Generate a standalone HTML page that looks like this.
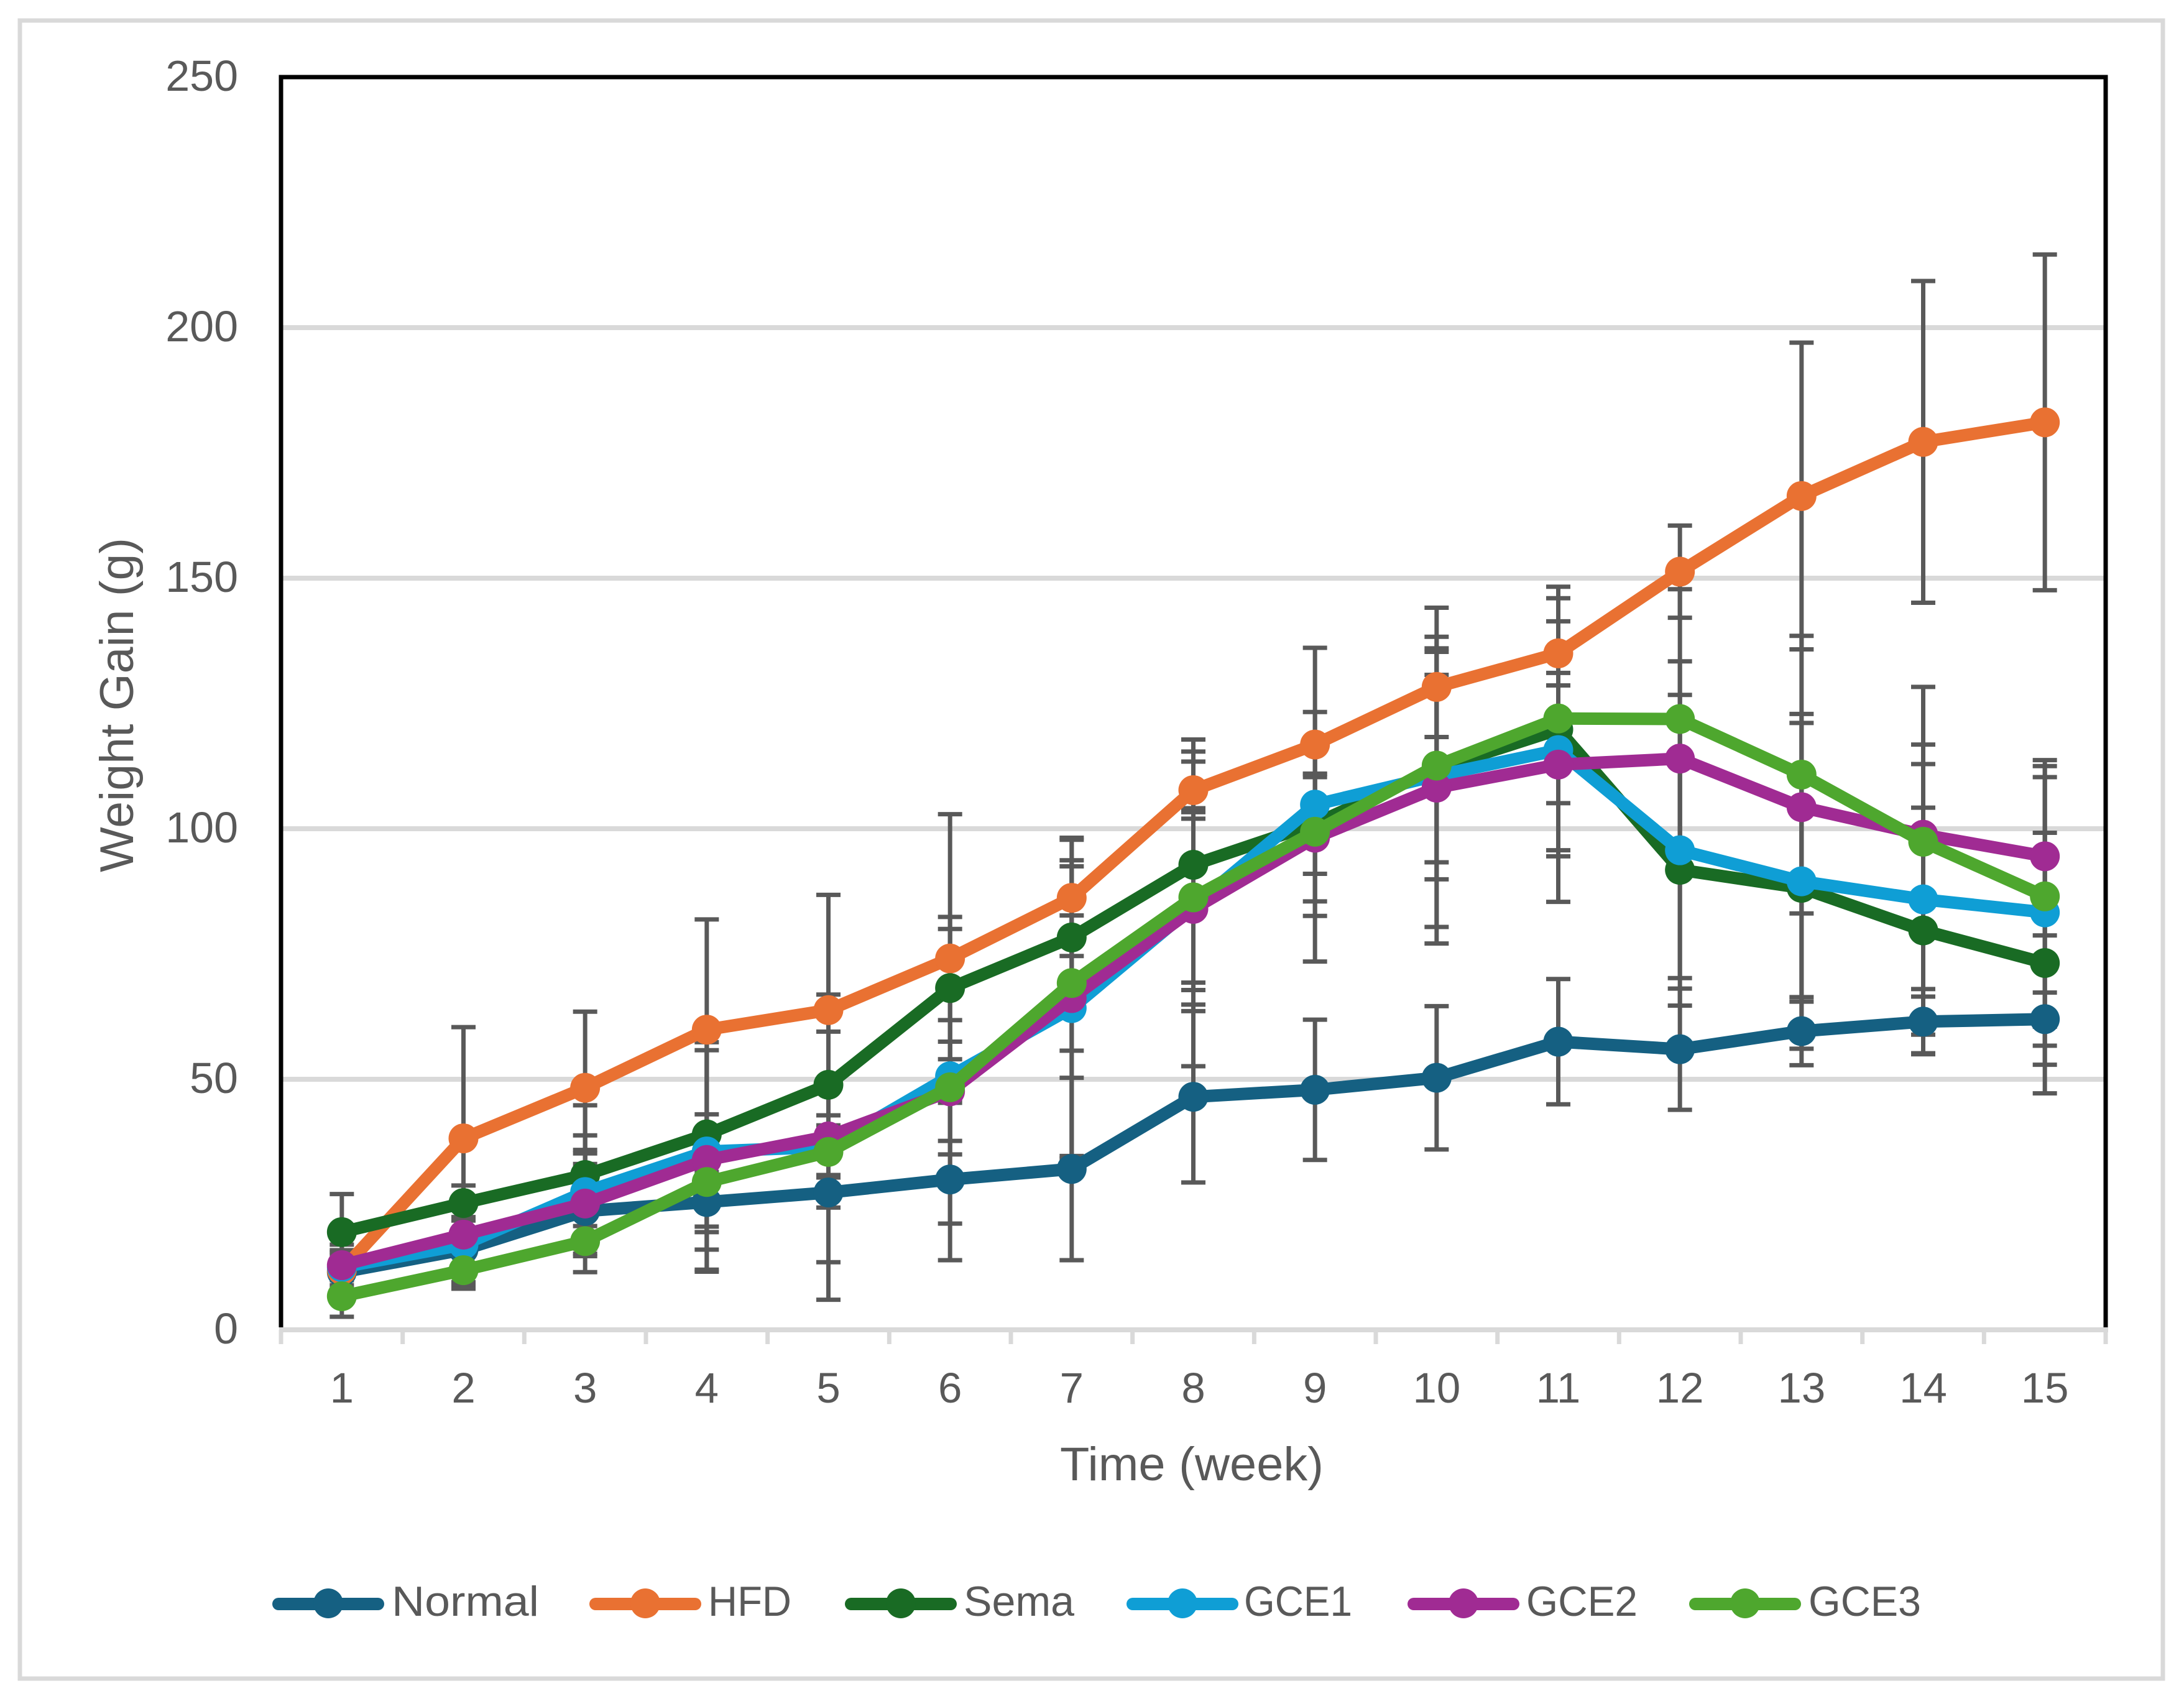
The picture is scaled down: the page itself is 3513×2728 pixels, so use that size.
<!DOCTYPE html>
<html lang="en">
<head>
<meta charset="utf-8">
<title>Weight Gain over Time</title>
<style>
html,body{margin:0;padding:0;background:#fff;}
svg{display:block;}
text{font-family:"Liberation Sans",sans-serif;fill:#595959;}
</style>
</head>
<body>
<svg id="chart" xmlns="http://www.w3.org/2000/svg" width="3513" height="2728" viewBox="0 0 3513 2728">
  <rect x="0" y="0" width="3513" height="2728" fill="#ffffff"/>
  <rect x="32" y="33" width="3447" height="2667" fill="#ffffff" stroke="#d9d9d9" stroke-width="7"/>
  <g id="grid"></g>
  <g id="axes"></g>
  <g id="errors"></g>
  <g id="series"></g>
  <text transform="translate(214,1403) rotate(-90)" font-size="76" textLength="538" lengthAdjust="spacingAndGlyphs">Weight Gain (g)</text>
  <text x="1705" y="2381" font-size="76" textLength="424" lengthAdjust="spacingAndGlyphs">Time (week)</text>
  <g id="legend"></g>
</svg>
<script>
const weeks = ["1","2","3","4","5","6","7","8","9","10","11","12","13","14","15"];
const yTicks = [0,50,100,150,200,250];

const normalMean = [11.5,16,23.7,25.5,27.4,30,32.1,46.5,47.9,50.3,57.5,56,59.6,61.5,62];
const normalErr  = [4,6.5,12.2,6,3,16.1,18.2,17.1,14,14.3,12.5,12.1,6.8,6.5,5.3];
const hfdMean = [11.9,38.2,48.3,59.9,63.8,74.1,86.2,107.7,116.8,128.3,135,151.3,166.4,177.2,181.1];
const hfdErr  = [3,22.2,15.2,22,23,28.8,11.6,5.7,6.5,10,6.4,9.2,30.6,32.1,33.5];
const semaMean = [19.5,25.3,30.9,39,48.9,68.2,78.3,92.8,101,112,119.8,91.8,88.2,79.7,73.2];
const semaErr  = [7.6,3.5,13.9,18.4,18,14.2,14.2,25,10,18.7,14.7,21.6,22.7,24.5,26];
const gce1Mean = [12.5,17,27.5,35.6,36.5,50.6,64.2,84.5,104.8,110.6,115.7,95.7,89.5,85.9,83.3];
const gce1Err  = [4.5,8,11.3,24,23,29.4,29.5,19.6,31.3,33.5,30.3,31,33.4,27,30.4];
const gce2Mean = [12.9,19,25.2,33.9,38.6,47.6,66.2,84,98.2,108.2,112.8,114,104.3,98.8,94.5];
const gce2Err  = [3,3,10,21.9,4.2,9.9,32,31.4,12.7,27.8,18.3,19.4,16.8,18,15.8];
const gce3Mean = [6.7,11.9,17.7,29.5,35.5,48.4,69.2,86.3,99.4,112.6,122,121.9,110.8,97.4,86.5];
const gce3Err  = [4.1,3.7,3,13.5,29.5,13.4,13.5,17,16.8,22.7,26.3,25.9,27.7,30.9,26];

const seriesNames = ["Normal","HFD","Sema","GCE1","GCE2","GCE3"];
const seriesMeans = [normalMean,hfdMean,semaMean,gce1Mean,gce2Mean,gce3Mean];
const seriesErrors = [normalErr,hfdErr,semaErr,gce1Err,gce2Err,gce3Err];
const seriesColors = ["#156082","#E97132","#196B24","#0F9ED5","#A02B93","#4EA72E"];

const plotLeft = 452, plotRight = 3387, plotTop = 124, plotBottom = 2139, yMax = 250;
const NS = "http://www.w3.org/2000/svg";

function xPos(i){ return plotLeft + (plotRight - plotLeft) * (i + 0.5) / weeks.length; }
function yPos(v){ return plotBottom - (plotBottom - plotTop) * v / yMax; }
function make(tag, attrs, parent){
  const el = document.createElementNS(NS, tag);
  for (const k in attrs) el.setAttribute(k, attrs[k]);
  parent.appendChild(el);
  return el;
}

const gridG = document.getElementById("grid");
const axesG = document.getElementById("axes");
const errG = document.getElementById("errors");
const serG = document.getElementById("series");
const legG = document.getElementById("legend");

yTicks.forEach(function(t){
  if (t !== 0 && t !== 250) {
    const g = make("line", {x1:plotLeft, x2:plotRight, y1:yPos(t), y2:yPos(t), stroke:"#d9d9d9", "stroke-width":8}, gridG);
    
    
  }
  const lab = make("text", {x:383, y:yPos(t) + 22, "font-size":70, "text-anchor":"end"}, axesG);
  lab.textContent = String(t);
  
  
});

const xAxis = make("line", {x1:plotLeft - 3, x2:plotRight + 4, y1:plotBottom, y2:plotBottom, stroke:"#d9d9d9", "stroke-width":8}, axesG);



for (let i = 0; i <= weeks.length; i++) {
  const tx = plotLeft + (plotRight - plotLeft) * i / weeks.length;
  const tick = make("line", {x1:tx, x2:tx, y1:plotBottom, y2:plotBottom + 23, stroke:"#d9d9d9", "stroke-width":7}, axesG);
  
  
}

weeks.forEach(function(w, i){
  const lab = make("text", {x:xPos(i), y:2256, "font-size":69, "text-anchor":"middle"}, axesG);
  lab.textContent = w;
  
  
});

const border = make("path", {d:"M" + plotLeft + " " + (plotBottom - 4) + "V" + plotTop + "H" + plotRight + "V" + (plotBottom - 4), fill:"none", stroke:"#000000", "stroke-width":7, "stroke-linejoin":"miter"}, axesG);



seriesMeans.forEach(function(means, s){
  means.forEach(function(m, i){
    const e = seriesErrors[s][i];
    const x = xPos(i);
    const d = "M" + x + " " + yPos(m + e) + "V" + yPos(m - e) +
              "M" + (x - 19.5) + " " + yPos(m + e) + "H" + (x + 19.5) +
              "M" + (x - 19.5) + " " + yPos(m - e) + "H" + (x + 19.5);
    const bar = make("path", {d:d, fill:"none", stroke:"#595959", "stroke-width":7}, errG);
    
    
  });
});

seriesMeans.forEach(function(means, s){
  const pts = means.map(function(m, i){ return xPos(i) + "," + yPos(m); }).join(" ");
  const line = make("polyline", {points:pts, fill:"none", stroke:seriesColors[s], "stroke-width":20, "stroke-linejoin":"round", "stroke-linecap":"round"}, serG);
  
  
  means.forEach(function(m, i){
    const pt = make("circle", {cx:xPos(i), cy:yPos(m), r:24, fill:seriesColors[s]}, serG);
    
    
  });
});

const legendKeyStart = [438,948,1359,1812,2264,2717];
const legendTextStart = [630,1139,1550,2001,2455,2909];
const legendTextWidth = [237,134,178,174,179,181];
seriesNames.forEach(function(name, s){
  const x0 = legendKeyStart[s];
  const keyLine = make("line", {x1:x0 + 10, x2:x0 + 170, y1:2580, y2:2580, stroke:seriesColors[s], "stroke-width":20, "stroke-linecap":"round"}, legG);
  
  
  const keyDot = make("circle", {cx:x0 + 90, cy:2579, r:24, fill:seriesColors[s]}, legG);
  
  
  const lab = make("text", {x:legendTextStart[s], y:2599, "font-size":68, textLength:legendTextWidth[s], lengthAdjust:"spacingAndGlyphs"}, legG);
  lab.textContent = name;
  
  
});
</script>
</body>
</html>
